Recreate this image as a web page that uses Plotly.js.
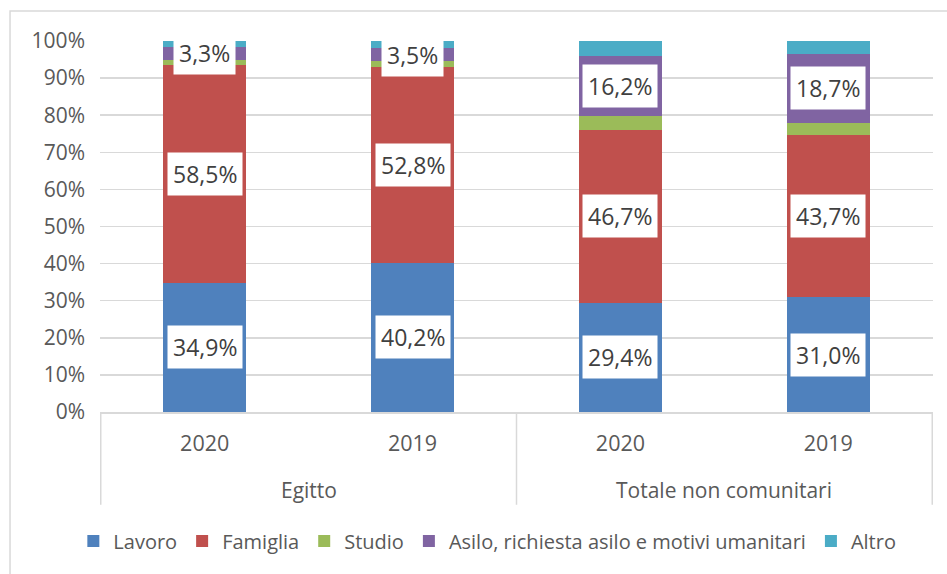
<!DOCTYPE html>
<html>
<head>
<meta charset="utf-8">
<script src="https://cdn.plot.ly/plotly-3.0.1.min.js"></script>
<style>html,body{margin:0;padding:0;background:#fff;}#chart{width:947px;height:574px;}</style>
</head>
<body>
<div id="chart"></div>
<script>
// ---- data ----
const groups = ["Egitto", "Egitto", "Totale non comunitari", "Totale non comunitari"];
const years = ["2020", "2019", "2020", "2019"];
const seriesNames = ["Lavoro", "Famiglia", "Studio", "Asilo, richiesta asilo e motivi umanitari", "Altro"];
const lavoro   = [34.9, 40.2, 29.4, 31.0];
const famiglia = [58.5, 52.8, 46.7, 43.7];
const studio   = [1.6, 1.6, 3.6, 3.2];
const asilo    = [3.3, 3.5, 16.2, 18.7];
const altro    = [1.7, 1.9, 4.1, 3.4];
const groupNames = ["Egitto", "Totale non comunitari"];
const labelledSeries = [0, 1, 3]; // series with data labels

// ---- build ----
const colors = ["#4f81bd", "#c0504d", "#9bbb59", "#8064a2", "#4bacc6"];
const values = [lavoro, famiglia, studio, asilo, altro];
const cats = groups.map((g, i) => g + " " + years[i]);
const FONT = "Open Sans, Liberation Sans, Arial, sans-serif";

const traces = values.map((v, s) => ({
  type: "bar",
  name: seriesNames[s],
  x: cats,
  y: v,
  marker: {color: colors[s], line: {width: 0}},
  hoverinfo: "skip"
}));

const annotations = [];
labelledSeries.forEach(s => {
  cats.forEach((c, i) => {
    let base = 0;
    for (let k = 0; k < s; k++) base += values[k][i];
    annotations.push({
      xref: "x", yref: "y", x: c, y: base + values[s][i] / 2,
      text: values[s][i].toFixed(1).replace(".", ",") + "%",
      showarrow: false, bgcolor: "#ffffff", borderpad: 5,
      font: {family: FONT, size: 23, color: "#404040"}
    });
  });
});
// group labels
groupNames.forEach(g => {
  const idx = groups.map((x, i) => x === g ? i : -1).filter(i => i >= 0);
  const mid = (idx[0] + idx[idx.length - 1]) / 2;
  annotations.push({
    xref: "x", yref: "paper", x: mid, y: -0.21, yanchor: "middle",
    text: g, showarrow: false,
    font: {family: FONT, size: 21, color: "#595959"}
  });
});

const shapes = [];
// dividers at group boundaries
const bounds = [-0.5];
for (let i = 1; i < groups.length; i++) if (groups[i] !== groups[i - 1]) bounds.push(i - 0.5);
bounds.push(groups.length - 0.5);
bounds.forEach(b => shapes.push({
  type: "line", xref: "x", yref: "paper", x0: b, x1: b, y0: 0, y1: -0.25,
  line: {color: "#d9d9d9", width: 1.5}
}));
// outer chart border
shapes.push({
  type: "rect", xref: "paper", yref: "paper",
  x0: -0.108, x1: 1.03, y0: -0.46, y1: 1.081,
  line: {color: "#d9d9d9", width: 1.5}, fillcolor: "rgba(0,0,0,0)"
});

const layout = {
  width: 947, height: 574,
  margin: {l: 100, r: 14, t: 41, b: 162},
  paper_bgcolor: "#ffffff", plot_bgcolor: "#ffffff",
  barmode: "stack", bargap: 0.6,
  showlegend: true,
  legend: {
    orientation: "h", x: 0.465, xanchor: "center", y: -0.348, yanchor: "middle",
    font: {family: FONT, size: 20, color: "#595959"},
    itemclick: false, traceorder: "normal", itemwidth: 30
  },
  xaxis: {
    type: "category",
    tickmode: "array", tickvals: cats, ticktext: years,
    tickfont: {family: FONT, size: 21.5, color: "#595959"},
    ticks: "", ticklabelstandoff: 12,
    showline: true, linecolor: "#d9d9d9", linewidth: 1.5,
    showgrid: false, zeroline: false, fixedrange: true
  },
  yaxis: {
    range: [0, 100], dtick: 10, tick0: 0,
    ticksuffix: "%",
    tickfont: {family: FONT, size: 21, color: "#595959"},
    ticks: "", ticklabelstandoff: 14,
    showgrid: true, gridcolor: "#d9d9d9", gridwidth: 1.5,
    zeroline: false, showline: false, fixedrange: true
  },
  annotations: annotations,
  shapes: shapes
};

Plotly.newPlot("chart", traces, layout, {displayModeBar: false, staticPlot: true});
</script>
</body>
</html>
